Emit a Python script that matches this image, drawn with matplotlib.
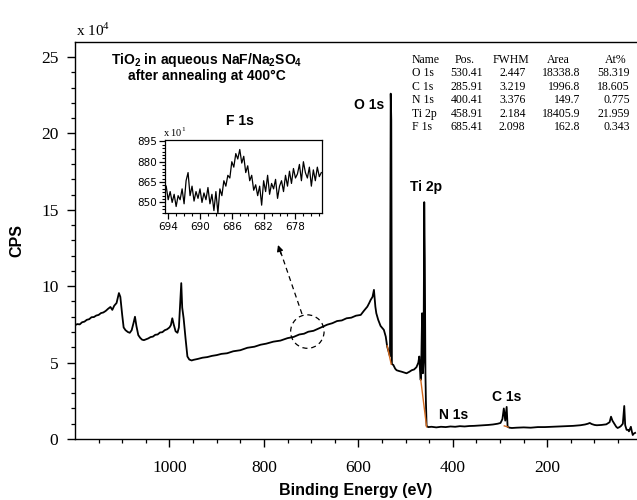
import matplotlib
matplotlib.use('Agg')
import matplotlib.pyplot as plt
from matplotlib.patches import Ellipse
from matplotlib.lines import Line2D
from matplotlib.ticker import FixedLocator

plt.rcParams['mathtext.fontset'] = 'custom'
plt.rcParams['mathtext.bf'] = 'Liberation Sans:bold'
plt.rcParams['mathtext.rm'] = 'Liberation Serif'

# ---------------- data ----------------
energy = [1200, 1195, 1190, 1185, 1180, 1175, 1170, 1165, 1160, 1155, 1150, 1145, 1140, 1135,
          1130, 1125, 1121, 1117, 1112, 1107, 1104, 1100, 1097, 1093, 1088, 1084, 1080, 1076,
          1073, 1070, 1066, 1062, 1058, 1054, 1050, 1045, 1040, 1035, 1030, 1025, 1020, 1015,
          1010, 1005, 1000, 997, 994, 991, 987, 983, 980, 977, 975, 973, 970, 966, 962, 958,
          953, 949, 940, 930, 920, 910, 900, 890, 878, 865, 850, 835, 820, 807, 795, 780, 765,
          750, 737, 725, 715, 706, 695, 685, 675, 666, 655, 645, 635, 625, 615, 605, 595, 588,
          581, 577, 574, 570, 567, 564, 562, 558, 553, 546, 542, 539, 535, 533, 531.5, 530.3,
          529, 526, 522, 519, 514, 508, 503, 498, 492, 487, 482, 477, 473, 471, 469.5, 468,
          466.5, 465, 463.5, 462, 460.5, 459.3, 458, 457, 455.5, 452, 445, 435, 425, 415, 405,
          395, 385, 375, 365, 355, 345, 335, 325, 315, 305, 299, 295, 292, 289, 286, 284, 280,
          275, 265, 250, 235, 220, 205, 190, 175, 160, 145, 130, 120, 114, 110, 106, 100, 95,
          85, 75, 68, 65, 62, 58, 54, 51, 47, 44, 40, 37, 35, 32, 29, 27, 25, 23, 21, 19, 17, 14]
cps = [7.45, 7.52, 7.50, 7.64, 7.68, 7.80, 7.84, 7.97, 7.98, 8.08, 8.12, 8.24, 8.28, 8.38,
       8.52, 8.64, 8.45, 8.72, 8.90, 9.55, 9.30, 8.10, 7.30, 7.12, 7.00, 6.95, 7.12, 7.60,
       8.00, 7.40, 6.80, 6.62, 6.50, 6.47, 6.52, 6.58, 6.67, 6.70, 6.82, 6.84, 6.97, 6.99,
       7.12, 7.18, 7.30, 7.45, 7.90, 7.50, 7.05, 6.95, 7.30, 9.00, 10.20, 8.60, 7.90, 6.60, 5.40, 5.20,
       5.14, 5.18, 5.24, 5.32, 5.36, 5.44, 5.49, 5.57, 5.61, 5.74, 5.81, 5.97, 6.04, 6.17, 6.24, 6.37, 6.44,
       6.60, 6.68, 6.84, 6.89, 7.02, 7.08, 7.22, 7.36, 7.48, 7.58, 7.72, 7.76, 7.90, 7.94, 8.07, 8.12, 8.40,
       8.66, 8.90, 9.10, 9.30, 9.76, 8.66, 8.23, 7.80, 7.40, 7.14, 6.70, 6.05, 5.60, 5.40, 22.6, 20.9,
       4.90, 4.85, 4.60, 4.50, 4.45, 4.40, 4.35, 4.30, 4.40, 4.50, 4.55, 4.70, 5.00, 5.40, 4.50, 3.86,
       5.50, 8.23, 4.30, 5.00, 15.5, 11.8, 4.30, 2.50, 0.85, 0.78, 0.80, 0.76, 0.80, 0.78, 0.82,
       0.80, 0.84, 0.82, 0.85, 0.86, 0.88, 0.90, 0.92, 0.95, 1.00, 1.05, 1.30, 2.00, 1.20, 2.10, 0.80, 0.74,
       0.72, 0.74, 0.76, 0.74, 0.78, 0.78, 0.80, 0.82, 0.84, 0.86, 0.90, 0.95, 1.00, 1.05, 0.98, 0.92, 0.90,
       0.92, 0.96, 1.10, 1.46, 1.20, 1.00, 0.80, 0.72, 0.78, 0.85, 1.00, 2.16, 0.90, 0.60, 0.60, 0.50, 0.65, 0.80, 0.50, 0.26, 0.35, 0.40]

# background (fit) segments drawn in orange
bg_o_energy, bg_o_cps = [539, 530.5], [6.1, 4.9]
bg_ti_energy, bg_ti_cps = [468, 455.5], [3.9, 0.8]
bg_c_energy, bg_c_cps = [291, 283], [0.86, 0.78]

# F 1s inset
inset_energy = [694.25, 694.0, 693.75, 693.5, 693.25, 693.0, 692.75, 692.5, 692.25, 692.0,
                691.75, 691.5, 691.25, 691.0, 690.75, 690.5, 690.25, 690.0,
                689.75, 689.5, 689.25, 689.0, 688.75, 688.5, 688.25, 688.0,
                687.75, 687.5, 687.25, 687.0, 686.75, 686.5, 686.25, 686.0,
                685.75, 685.5, 685.25, 685.0, 684.75, 684.5, 684.25, 684.0,
                683.75, 683.5, 683.25, 683.0, 682.75, 682.5, 682.25, 682.0,
                681.75, 681.5, 681.25, 681.0, 680.75, 680.5, 680.25, 680.0,
                679.75, 679.5, 679.25, 679.0, 678.75, 678.5, 678.25, 678.0,
                677.75, 677.5, 677.25, 677.0, 676.75, 676.5, 676.25, 676.0,
                675.75, 675.5, 675.25, 675.0, 674.75]
inset_counts = [862, 852, 858, 850, 856, 847, 855, 852, 860, 849,
                866, 872, 855, 862, 851, 858, 853, 860,
                850, 857, 852, 861, 849, 856, 844, 858,
                842, 860, 855, 866, 862, 870, 868, 880,
                876, 886, 882, 889, 879, 884, 872, 877,
                866, 870, 859, 863, 855, 862, 848, 866,
                858, 870, 856, 864, 860, 867, 853, 862,
                866, 858, 870, 862, 873, 864, 875, 868,
                871, 878, 866, 880, 872, 868, 876, 862,
                874, 866, 876, 869, 872]

x_major = [1000, 800, 600, 400, 200]
inset_x_major = [694, 690, 686, 682, 678]
inset_y_major = [850, 865, 880, 895]

table_header = ['Name', 'Pos.', 'FWHM', 'Area', 'At%']
table_names = ['O 1s', 'C 1s', 'N 1s', 'Ti 2p', 'F 1s']
table_pos = ['530.41', '285.91', '400.41', '458.91', '685.41']
table_fwhm = ['2.447', '3.219', '3.376', '2.184', '2.098']
table_area = ['18338.8', '1996.8', '149.7', '18405.9', '162.8']
table_at = ['58.319', '18.605', '0.775', '21.959', '0.343']

# ---------------- figure ----------------
W, H = 637, 500
fig = plt.figure(figsize=(W / 100, H / 100), dpi=100)


def fx(x):
    return x / W


def fy(y):
    return 1 - y / H


ax = fig.add_axes([fx(75), fy(439), fx(637) - fx(75), fy(41.7) - fy(439)])
ax.plot(energy, cps, color='black', lw=1.3, zorder=3)
for e, c in ((bg_o_energy, bg_o_cps), (bg_ti_energy, bg_ti_cps), (bg_c_energy, bg_c_cps)):
    ax.plot(e, c, color='#d2691e', lw=1.0, zorder=4)

ax.set_xlim(1200, 10)
ax.set_ylim(0, 26)
ax.xaxis.set_major_locator(FixedLocator(x_major))
ax.xaxis.set_minor_locator(FixedLocator([v for v in range(50, 1200, 50) if v not in x_major]))
ax.yaxis.set_major_locator(FixedLocator([0, 5, 10, 15, 20, 25]))
ax.yaxis.set_minor_locator(FixedLocator([v for v in range(1, 26) if v % 5]))
ax.spines['right'].set_visible(False)
for s in ('left', 'bottom', 'top'):
    ax.spines[s].set_linewidth(1.0)
ax.tick_params(which='major', direction='out', length=6, width=1.0, pad=6)
ax.tick_params(axis='x', which='major', pad=9)
ax.tick_params(which='minor', direction='out', length=3, width=0.9)
ax.tick_params(top=False, right=False)
for lab in ax.get_xticklabels() + ax.get_yticklabels():
    lab.set_fontfamily('Liberation Serif')
    lab.set_fontsize(12.5)

ax.set_xlabel('Binding Energy (eV)', fontsize=11.5, fontweight='bold',
              family='Liberation Sans', labelpad=5)
ax.set_ylabel('CPS', fontsize=11.5, fontweight='bold', family='Liberation Sans', labelpad=12)

fig.text(fx(76), fy(36), r'x 10$^{\mathrm{4}}$', fontsize=11, family='Liberation Serif',
         ha='left', va='baseline')

# dashed circle around the F 1s region and dashed arrow to inset
ax.add_patch(Ellipse((708, 7.03), width=70.8, height=2.19, fill=False, ls=(0, (4, 3)),
                     lw=0.9, ec='black', zorder=5))
fig.add_artist(Line2D([fx(302), fx(280)], [fy(314), fy(250)], color='black', lw=0.9,
                      ls=(0, (4, 3)), transform=fig.transFigure))
ax.annotate('', xy=(278, H - 245), xycoords='figure pixels',
            xytext=(281, H - 254), textcoords='figure pixels',
            arrowprops=dict(arrowstyle='-|>', color='black', lw=0.9, mutation_scale=9,
                            shrinkA=0, shrinkB=0))

# peak labels
lab_kw = dict(fontsize=10, fontweight='bold', family='Liberation Sans', ha='center', va='center')
fig.text(fx(369), fy(105), 'O 1s', **lab_kw)
fig.text(fx(426), fy(187), 'Ti 2p', **lab_kw)
fig.text(fx(454), fy(415), 'N 1s', **lab_kw)
fig.text(fx(507), fy(397), 'C 1s', **lab_kw)

# sample description
fig.text(fx(207), fy(60), r'TiO$_{\mathbf{2}}$ in aqueous NaF/Na$_{\mathbf{2}}$SO$_{\mathbf{4}}$',
         **dict(lab_kw, fontsize=10))
fig.text(fx(207), fy(76), 'after annealing at 400°C', **dict(lab_kw, fontsize=10))

# quantification table
tkw = dict(fontsize=8.5, family='Liberation Serif', va='center')
hdr_x = [411.7, 455, 492.7, 546.7, 605]
for txt, xx in zip(table_header, hdr_x):
    fig.text(fx(xx), fy(60), txt, ha='left', **tkw)
for i in range(len(table_names)):
    yy = 73.5 + 13.45 * i
    fig.text(fx(411.7), fy(yy), table_names[i], ha='left', **tkw)
    fig.text(fx(483), fy(yy), table_pos[i], ha='right', **tkw)
    fig.text(fx(525.5), fy(yy), table_fwhm[i], ha='right', **tkw)
    fig.text(fx(580), fy(yy), table_area[i], ha='right', **tkw)
    fig.text(fx(630), fy(yy), table_at[i], ha='right', **tkw)

# inset
axi = fig.add_axes([fx(165), fy(213.3), fx(321.7) - fx(165), fy(140) - fy(213.3)])
axi.plot(inset_energy, inset_counts, color='black', lw=0.9)
axi.set_xlim(694.4, 674.7)
axi.set_ylim(842, 896)
axi.xaxis.set_major_locator(FixedLocator(inset_x_major))
axi.xaxis.set_minor_locator(FixedLocator([v for v in range(675, 695) if v not in inset_x_major]))
axi.yaxis.set_major_locator(FixedLocator(inset_y_major))
axi.yaxis.set_minor_locator(FixedLocator([842.5 + 2.5 * k for k in range(22)]))
axi.tick_params(which='major', direction='out', length=4, width=0.9, pad=2, labelsize=7.5)
axi.tick_params(which='minor', direction='out', length=2.5, width=0.8)
for s in axi.spines.values():
    s.set_linewidth(0.9)
for lab in axi.get_xticklabels() + axi.get_yticklabels():
    lab.set_fontfamily('DejaVu Sans')
fig.text(fx(163), fy(137), r'x 10$^{\mathrm{1}}$', fontsize=7.5, family='Liberation Serif',
         ha='left', va='baseline')
fig.text(fx(240), fy(121), 'F 1s', **lab_kw)

fig.savefig('out.png', dpi=100)
